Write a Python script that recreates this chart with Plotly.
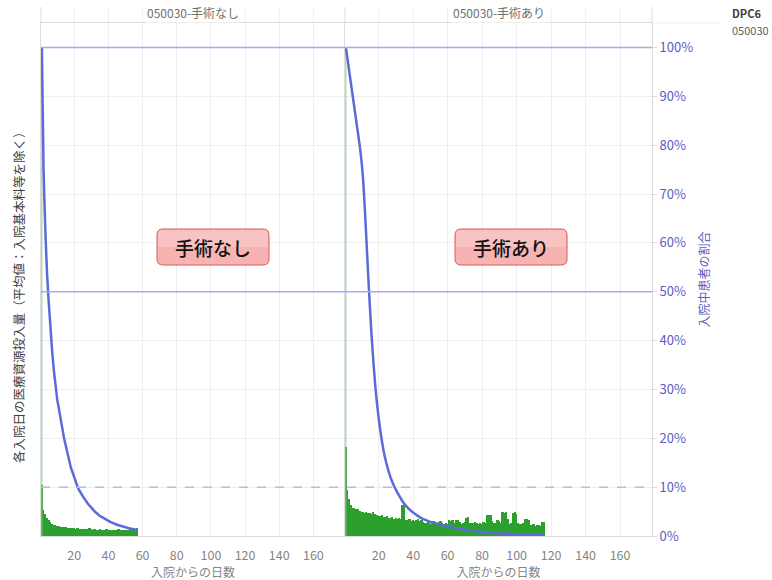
import plotly.graph_objects as go

# ---------------- data ----------------
panel_titles = ["050030-手術なし", "050030-手術あり"]
box_labels = ["手術なし", "手術あり"]
x_title = "入院からの日数"
y_left_title = "各入院日の医療資源投入量（平均値：入院基本料等を除く）"
y_right_title = "入院中患者の割合"
legend_title = "DPC6"
legend_value = "050030"

x_ticks = [20, 40, 60, 80, 100, 120, 140, 160]
pct_ticks = [0, 10, 20, 30, 40, 50, 60, 70, 80, 90, 100]
ref_solid = [100, 50]
ref_dashed = [10]

# 手術なし
days_none = list(range(1, 58))
cost_none = [10.5, 5.3, 4.6, 3.6, 3.2, 2.8, 2.5, 2.3, 2.2, 2.1,
             2.0, 1.9, 1.9, 1.8, 1.8, 1.7, 1.7, 1.6, 1.6, 1.6,
             1.5, 1.6, 1.5, 1.4, 1.5, 1.4, 1.4, 1.5, 1.6, 1.4,
             1.3, 1.4, 1.3, 1.3, 1.4, 1.3, 1.2, 1.3, 1.5, 1.3,
             1.2, 1.3, 1.2, 1.2, 1.3, 1.4, 1.2, 1.2, 1.3, 1.2,
             1.3, 1.2, 1.4, 1.3, 1.4, 1.5, 1.6]
stay_none = [100, 75, 63, 54, 48, 43, 38, 34, 31, 28,
             26, 24, 22, 20, 18.5, 17, 15.5, 14, 13, 12,
             11, 10, 9.3, 8.7, 8.1, 7.6, 7.1, 6.6, 6.2, 5.8,
             5.4, 5.0, 4.7, 4.4, 4.1, 3.9, 3.7, 3.5, 3.3, 3.1,
             2.9, 2.75, 2.6, 2.45, 2.3, 2.2, 2.1, 2.0, 1.9, 1.8,
             1.7, 1.6, 1.5, 1.45, 1.4, 1.3, 1.25]

# 手術あり
days_with = list(range(1, 117))
cost_with = [18.2, 9.4, 7.5, 6.3, 5.8, 5.7, 5.5, 5.6, 5.2, 5.0,
             4.9, 4.8, 5.0, 4.7, 4.8, 4.6, 4.9, 4.5, 4.3, 4.1,
             4.0, 4.2, 3.9, 3.8, 4.0, 3.7, 3.6, 3.8, 3.5, 3.6,
             3.4, 3.6, 3.5, 6.3, 6.2, 3.3, 3.2, 3.4, 3.1, 3.3,
             3.0, 3.2, 3.5, 3.1, 3.3, 2.8, 2.6, 2.7, 3.0, 2.5,
             2.8, 3.0, 2.6, 2.4, 2.9, 3.1, 2.6, 2.5, 2.7, 2.4,
             3.2, 3.0, 3.3, 2.7, 3.2, 3.3, 2.8, 2.5, 2.6, 2.9,
             3.7, 3.8, 2.6, 2.7, 2.6, 2.8, 2.7, 2.5, 2.6, 2.4,
             2.8, 2.6, 4.3, 4.4, 4.2, 3.0, 2.7, 2.6, 3.2, 3.1,
             2.7, 4.9, 4.8, 5.0, 3.4, 2.5, 2.6, 4.8, 4.9, 4.6,
             2.6, 2.4, 2.5, 2.7, 3.4, 3.5, 3.3, 2.3, 2.2, 2.4,
             2.1, 2.3, 2.2, 2.0, 2.9, 2.9]
stay_with_days = [1, 2, 3, 4, 5, 6, 7, 8, 9, 10,
                  11, 12, 13, 14, 15, 16, 17, 18, 19, 20,
                  21, 22, 23, 24, 25, 26, 27, 28, 29, 30,
                  32, 34, 36, 38, 40, 45, 50, 55, 60, 65,
                  70, 75, 80, 85, 90, 95, 100, 105, 110, 116]
stay_with = [100, 97.5, 95, 92.5, 90, 87.5, 85, 82.5, 80, 77,
             73, 67, 60, 53, 46.5, 40.5, 35.5, 31, 27.3, 24.2,
             21.5, 19.2, 17.2, 15.6, 14.2, 13, 11.9, 11, 10.2, 9.5,
             8.2, 7, 6.1, 5.4, 4.8, 3.6, 2.9, 2.4, 2.0, 1.6,
             1.3, 1.05, 0.85, 0.7, 0.55, 0.45, 0.35, 0.3, 0.25, 0.2]

# ---------------- styling ----------------
FONT = "Noto Sans CJK JP"
BAR_C = "#2ca02c"
CURVE_C = "#5b6bd9"
REF_C = "#a9a9f3"
GRID_C = "#efefef"
LINE_C = "#dcdcdc"
TICK_C = "#858585"
PCT_C = "#5c5cc4"

W, H = 772, 580
ML, MR, MT, MB = 41, 120, 23, 44
PW = W - ML - MR
PH = H - MT - MB
split = (345 - ML) / PW


def fx(p):
    return (p - ML) / PW


def fy(p):
    return (H - MB - p) / PH


fig = go.Figure()

panels = [
    (days_none, cost_none, days_none, stay_none, "x", "y", "y3"),
    (days_with, cost_with, stay_with_days, stay_with, "x2", "y2", "y4"),
]
for bd, bv, sd, sv, xa, yb, yp in panels:
    fig.add_trace(go.Bar(x=bd, y=bv, xaxis=xa, yaxis=yb, marker_color=BAR_C,
                         marker_line_width=0, width=1.0, showlegend=False))
    fig.add_trace(go.Scatter(x=[sd[0], sd[0]], y=[0, sv[0]], xaxis=xa, yaxis=yp,
                             mode="lines", line=dict(color="#8ccc8c", width=1),
                             showlegend=False, hoverinfo="skip"))
    fig.add_trace(go.Scatter(x=sd, y=sv, xaxis=xa, yaxis=yp, mode="lines",
                             line=dict(color=CURVE_C, width=2.5, shape="spline", smoothing=0.5),
                             showlegend=False))

xcommon = dict(range=[0.5, 178.5], tickvals=x_ticks, showgrid=True, gridcolor=GRID_C,
               showline=True, linecolor=LINE_C, mirror=True, zeroline=False,
               automargin=False,
               tickfont=dict(family=FONT, size=12.5, color=TICK_C), ticks="",
               ticklabelstandoff=8,
               title=dict(text=x_title, font=dict(family=FONT, size=12, color=TICK_C), standoff=4))
ycommon = dict(range=[0, 105], dtick=10, tick0=0, showgrid=True, gridcolor=GRID_C,
               showticklabels=False, zeroline=False, showline=True, linecolor=LINE_C, ticks="")

fig.update_layout(
    width=W, height=H,
    margin=dict(l=ML, r=MR, t=MT, b=MB, autoexpand=False),
    paper_bgcolor="white", plot_bgcolor="white",
    font=dict(family=FONT, color=TICK_C),
    bargap=0, barmode="overlay",
    showlegend=False,
    xaxis=dict(domain=[0, split], anchor="y", **xcommon),
    xaxis2=dict(domain=[split, 1], anchor="y2", **xcommon),
    yaxis=dict(domain=[0, 1], anchor="x", automargin=False, **ycommon),
    yaxis2=dict(domain=[0, 1], anchor="x2", automargin=False, **ycommon),
    yaxis3=dict(overlaying="y", anchor="x", range=[0, 105], visible=False),
    yaxis4=dict(overlaying="y2", anchor="x2", side="right", range=[0, 105],
                tickvals=pct_ticks, ticktext=[f"{v}%" for v in pct_ticks],
                tickfont=dict(family=FONT, size=13, color=PCT_C),
                ticks="outside", ticklen=4, tickcolor=LINE_C,
                showgrid=False, zeroline=False, showline=True, linecolor=LINE_C,
                automargin=False,
                title=dict(text=y_right_title, font=dict(family=FONT, size=12, color=PCT_C), standoff=8)),
)

# left value-axis title (placed to match the original's offset)
fig.add_annotation(text=y_left_title, xref="paper", yref="paper", x=fx(18), y=fy(294),
                   xanchor="center", yanchor="middle", textangle=-90, showarrow=False,
                   font=dict(family=FONT, size=12.5, color="#404040"))

for v in ref_solid:
    fig.add_shape(type="line", xref="paper", x0=0, x1=1, yref="y4", y0=v, y1=v,
                  line=dict(color=REF_C, width=1.5))
for v in ref_dashed:
    fig.add_shape(type="line", xref="paper", x0=0, x1=1, yref="y4", y0=v, y1=v,
                  line=dict(color="#b8b8f6", width=1.5, dash="dash"))

# trellis strip: grid lines continue up into the header band
strip_top = 1 + 16 / PH
for xa in ["x", "x2"]:
    for t in x_ticks:
        fig.add_shape(type="line", xref=xa, x0=t, x1=t, yref="paper", y0=1, y1=strip_top,
                      line=dict(color=GRID_C, width=1), layer="below")
for px in [0, split, 1]:
    fig.add_shape(type="line", xref="paper", x0=px, x1=px, yref="paper", y0=1, y1=strip_top,
                  line=dict(color=LINE_C, width=1))
fig.add_shape(type="line", xref="paper", x0=1, x1=fx(720), yref="paper", y0=1, y1=1,
              line=dict(color=GRID_C, width=1))

strip_y = 1 + 10 / PH
for txt, cx in zip(panel_titles, [split / 2, (split + 1) / 2]):
    fig.add_annotation(text=txt, xref="paper", yref="paper", x=cx, y=strip_y,
                       xanchor="center", yanchor="middle", bgcolor="white",
                       showarrow=False, font=dict(family=FONT, size=12, color="#707070"))

# rounded label boxes
BW, BH, R = 112, 36, 6
for txt, (cxp, cyp) in zip(box_labels, [(213, 247), (511, 247)]):
    x0, x1 = cxp - BW / 2, cxp + BW / 2
    y0, y1 = cyp - BH / 2, cyp + BH / 2
    path = (f"M {fx(x0 + R)},{fy(y0)} L {fx(x1 - R)},{fy(y0)} "
            f"Q {fx(x1)},{fy(y0)} {fx(x1)},{fy(y0 + R)} L {fx(x1)},{fy(y1 - R)} "
            f"Q {fx(x1)},{fy(y1)} {fx(x1 - R)},{fy(y1)} L {fx(x0 + R)},{fy(y1)} "
            f"Q {fx(x0)},{fy(y1)} {fx(x0)},{fy(y1 - R)} L {fx(x0)},{fy(y0 + R)} "
            f"Q {fx(x0)},{fy(y0)} {fx(x0 + R)},{fy(y0)} Z")
    fig.add_shape(type="path", path=path, xref="paper", yref="paper",
                  fillcolor="#f7b2b2", line=dict(color="#d65a5a", width=1))
    ym = (y0 + y1) / 2
    path2 = (f"M {fx(x0 + R)},{fy(y0 + 1)} L {fx(x1 - R)},{fy(y0 + 1)} "
             f"Q {fx(x1 - 1)},{fy(y0 + 1)} {fx(x1 - 1)},{fy(y0 + R)} L {fx(x1 - 1)},{fy(ym)} "
             f"L {fx(x0 + 1)},{fy(ym)} L {fx(x0 + 1)},{fy(y0 + R)} "
             f"Q {fx(x0 + 1)},{fy(y0 + 1)} {fx(x0 + R)},{fy(y0 + 1)} Z")
    fig.add_shape(type="path", path=path2, xref="paper", yref="paper",
                  fillcolor="#f9c3c3", line=dict(width=0))
    fig.add_annotation(text=txt, xref="paper", yref="paper", x=fx(cxp), y=fy(cyp),
                       xanchor="center", yanchor="middle", showarrow=False,
                       font=dict(family=FONT, size=19, color="#111111", weight=500))

fig.add_annotation(text="<b>" + legend_title + "</b>", xref="paper", yref="paper",
                   x=fx(730), y=strip_y, xanchor="left", yanchor="middle", showarrow=False,
                   font=dict(family=FONT, size=11, color="#404040"))
fig.add_annotation(text=legend_value, xref="paper", yref="paper",
                   x=fx(730), y=1 - 7 / PH, xanchor="left", yanchor="middle", showarrow=False,
                   font=dict(family=FONT, size=11, color="#606060"))

fig.write_html("out.html", config={"displayModeBar": False},
               post_script="document.body.style.margin='0px';")
